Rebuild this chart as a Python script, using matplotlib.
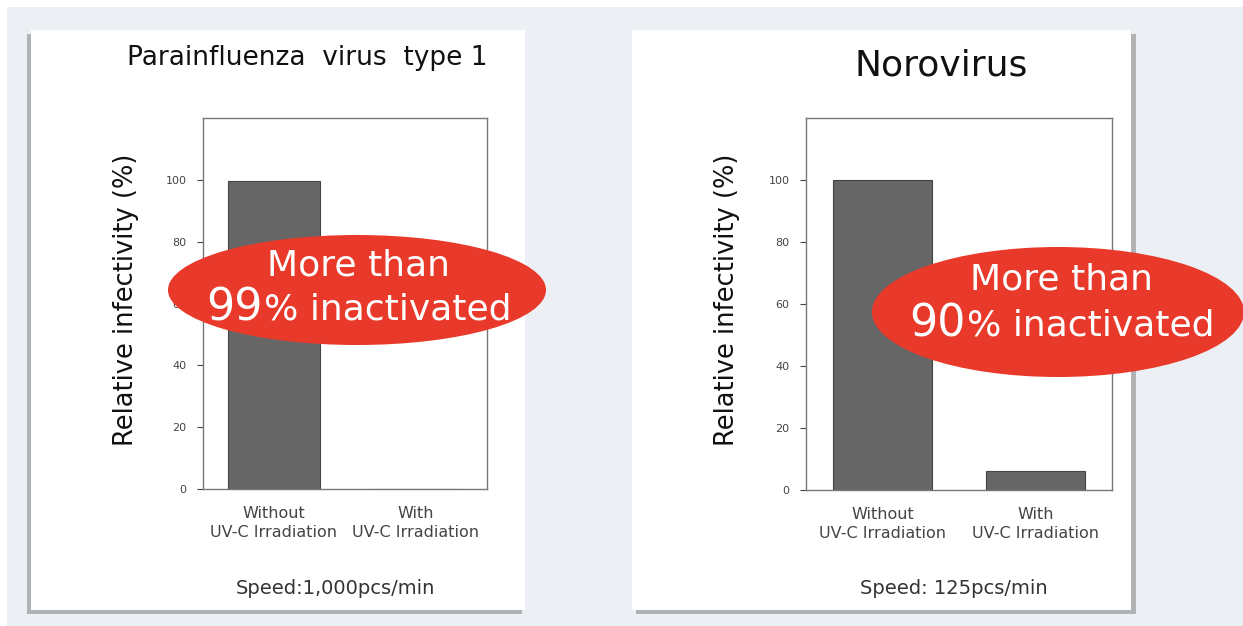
import matplotlib
matplotlib.use("Agg")
import matplotlib.pyplot as plt
from matplotlib.patches import Rectangle, Ellipse

plt.rcParams["font.family"] = ["DejaVu Sans"]

# data
categories = ["Without\nUV-C Irradiation", "With\nUV-C Irradiation"]
para_values = [99.5, 0.0]
noro_values = [100.0, 6.0]
y_ticks = [0, 20, 40, 60, 80, 100]

W, H = 1243, 626
bg = "#eceff3"
bar_grey = "#666666"
red = "#e8392a"

fig = plt.figure(figsize=(W / 100, H / 100), dpi=100)
fig.patch.set_facecolor("white")


def box(x0, y0, x1, y1):
    return [x0 / W, 1 - y1 / H, (x1 - x0) / W, (y1 - y0) / H]


# background layer in pixel coords
back = fig.add_axes([0, 0, 1, 1], zorder=0)
back.set_xlim(0, W)
back.set_ylim(H, 0)
back.axis("off")
back.add_patch(Rectangle((7, 7), W, H, color=bg, lw=0))
# panels with soft shadows
back.add_patch(Rectangle((27, 34), 495, 580, color="#8a8a8a", lw=0, alpha=0.6))
back.add_patch(Rectangle((31, 30), 494, 580, color="white", lw=0))
back.add_patch(Rectangle((636, 34), 500, 580, color="#8a8a8a", lw=0, alpha=0.6))
back.add_patch(Rectangle((632, 30), 499, 580, color="white", lw=0))


def panel(rect, values, title, title_x, title_y, title_size, ylabel_x, speed, speed_x):
    ax = fig.add_axes(box(*rect), zorder=1)
    ax.set_facecolor("white")
    x = range(len(categories))
    ax.bar(x, values, width=0.65, color=bar_grey, edgecolor="#444444", linewidth=0.8)
    ax.set_xlim(-0.5, 1.5)
    ax.set_ylim(0, 120)
    ax.set_yticks(y_ticks)
    ax.tick_params(axis="y", labelsize=8, colors="#444444", length=4, width=0.8, pad=8)
    ax.set_xticks(list(x))
    ax.set_xticklabels(categories, fontsize=11.5, color="#444444", linespacing=1.35)
    ax.tick_params(axis="x", length=0, pad=12)
    for s in ax.spines.values():
        s.set_color("#777777")
        s.set_linewidth(1.0)
    fig.text(ylabel_x / W, 1 - 300 / H, "Relative infectivity (%)", rotation=90,
             ha="center", va="center", fontsize=18.5, color="#111111")
    fig.text(title_x / W, 1 - title_y / H, title, ha="center", va="center",
             fontsize=title_size, color="#111111")
    fig.text(speed_x / W, 1 - 588 / H, speed, ha="center", va="center",
             fontsize=14, color="#333333")
    return ax


panel((203, 118, 487, 489), para_values, "Parainfluenza  virus  type 1", 307, 58, 19,
      126, "Speed:1,000pcs/min", 335)
panel((806, 118, 1112, 490), noro_values, "Norovirus", 941, 66, 26,
      727, "Speed: 125pcs/min", 954)

# overlay with callouts
top = fig.add_axes([0, 0, 1, 1], zorder=5)
top.set_xlim(0, W)
top.set_ylim(H, 0)
top.axis("off")
top.patch.set_alpha(0)


def callout(cx, cy, w, h, big, split_x, line2_y, line1_y, line1_x):
    top.add_patch(Ellipse((cx, cy), w, h, color=red, lw=0))
    top.text(line1_x, line1_y, "More than", color="white", fontsize=26,
             ha="center", va="center")
    top.text(split_x, line2_y, big, color="white", fontsize=32,
             ha="right", va="center")
    top.text(split_x + 1, line2_y + 2, "% inactivated", color="white", fontsize=26,
             ha="left", va="center")


callout(357, 290, 378, 110, "99", 263, 308, 266, 359)
callout(1058, 312, 372, 130, "90", 966, 324, 280, 1062)

fig.savefig("out.png", dpi=100)
